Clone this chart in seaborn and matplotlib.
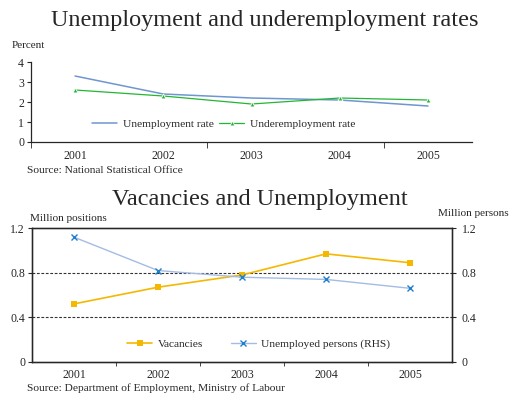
import numpy as np
import pandas as pd
import matplotlib
matplotlib.use("Agg")
from matplotlib import pyplot as plt
import seaborn as sns

years = ["2001", "2002", "2003", "2004", "2005"]
unemp_rate = [3.3, 2.4, 2.2, 2.1, 1.8]
underemp_rate = [2.6, 2.3, 1.9, 2.2, 2.1]
vacancies = [0.52, 0.67, 0.78, 0.97, 0.89]
unemp_persons = [1.12, 0.82, 0.76, 0.74, 0.66]

sns.set_style("white")
plt.rcParams['font.family'] = ['Liberation Serif', 'DejaVu Serif']
plt.rcParams['axes.linewidth'] = 0.9

pos = np.arange(len(years))
df = pd.DataFrame({"pos": pos, "unemp": unemp_rate, "under": underemp_rate,
                   "vac": vacancies, "persons": unemp_persons})

fig = plt.figure(figsize=(5.12, 3.94), dpi=100)

# ---- top chart
ax1 = fig.add_axes([0.0605, 0.6396, 0.8615, 0.203])
sns.lineplot(data=df, x="pos", y="unemp", ax=ax1, color="#6f96d0", lw=1.1,
             label="Unemployment rate")
sns.lineplot(data=df, x="pos", y="under", ax=ax1, color="#22b633", lw=0.9,
             marker="^", markersize=3.5, markeredgewidth=0.6,
             label="Underemployment rate")
ax1.set_xlim(-0.5, 4.5)
ax1.set_ylim(0, 4)
ax1.set_yticks([0, 1, 2, 3, 4])
ax1.set_xticks(pos)
ax1.set_xticklabels(years)
ax1.set_xticks([-0.5, 1.5, 3.5], minor=True)
ax1.tick_params(axis="x", which="major", length=0, labelsize=8.5, pad=5.5)
ax1.tick_params(axis="x", which="minor", length=4, direction="out", bottom=True)
ax1.tick_params(axis="y", length=3, direction="out", left=True, labelsize=8.5, pad=2)
ax1.set_xlabel("")
ax1.set_ylabel("")
for s in ["top", "right"]:
    ax1.spines[s].set_visible(False)
ax1.legend(loc="lower center", bbox_to_anchor=(0.437, 0.04), ncol=2, frameon=False,
           fontsize=8.2, handlelength=2.2, columnspacing=0.5, handletextpad=0.5)
fig.text(0.518, 0.947, "Unemployment and underemployment rates", ha="center",
         va="center", fontsize=17.5)
fig.text(0.022, 0.885, "Percent", fontsize=8, va="center")
fig.text(0.053, 0.567, "Source: National Statistical Office", fontsize=8.2, va="center")

# ---- bottom chart
ax2 = fig.add_axes([0.0625, 0.082, 0.8205, 0.3386])
sns.lineplot(data=df, x="pos", y="vac", ax=ax2, color="#f5b800", lw=1.2,
             marker="s", markersize=4, markeredgewidth=0, label="Vacancies",
             legend=False)
ax3 = ax2.twinx()
sns.lineplot(data=df, x="pos", y="persons", ax=ax3, color="#a4bce4", lw=1.0,
             marker="x", markersize=4, markeredgewidth=1.0, markeredgecolor="#1e7fcf",
             label="Unemployed persons (RHS)", legend=False)
for a in (ax2, ax3):
    a.set_ylim(0, 1.2)
    a.set_yticks([0, 0.4, 0.8, 1.2])
    a.set_yticklabels(["0", "0.4", "0.8", "1.2"])
    a.set_xlabel("")
    a.set_ylabel("")
ax2.set_xlim(-0.5, 4.5)
for y in (0.4, 0.8):
    ax2.axhline(y, color="#333333", lw=0.8, ls=(0, (2.5, 1.5)), zorder=0)
ax2.set_xticks(pos)
ax2.set_xticklabels(years)
ax2.set_xticks(np.arange(0.5, 4.5, 1), minor=True)
ax2.tick_params(axis="x", which="major", length=0, labelsize=8.5, pad=5)
ax2.tick_params(axis="x", which="minor", length=3, direction="out", bottom=True)
ax2.tick_params(axis="y", length=3, direction="out", left=True, labelsize=8.5, pad=2)
ax3.tick_params(axis="y", length=3, direction="out", right=True, labelsize=8.5, pad=4)
for s in ax2.spines.values():
    s.set_linewidth(1.0)
h1, l1 = ax2.get_legend_handles_labels()
h2, l2 = ax3.get_legend_handles_labels()
ax3.legend(h1 + h2, l1 + l2, loc="lower center", bbox_to_anchor=(0.54, 0.02), ncol=2,
           frameon=False, fontsize=8.2, handlelength=2.2, columnspacing=2.4,
           handletextpad=0.5)
fig.text(0.508, 0.494, "Vacancies and Unemployment", ha="center", va="center",
         fontsize=17.5)
fig.text(0.058, 0.445, "Million positions", fontsize=8, va="center")
fig.text(0.855, 0.457, "Million persons", fontsize=8, va="center")
fig.text(0.053, 0.015, "Source: Department of Employment, Ministry of Labour",
         fontsize=8.2, va="center")

fig.savefig("out.png", dpi=100)
